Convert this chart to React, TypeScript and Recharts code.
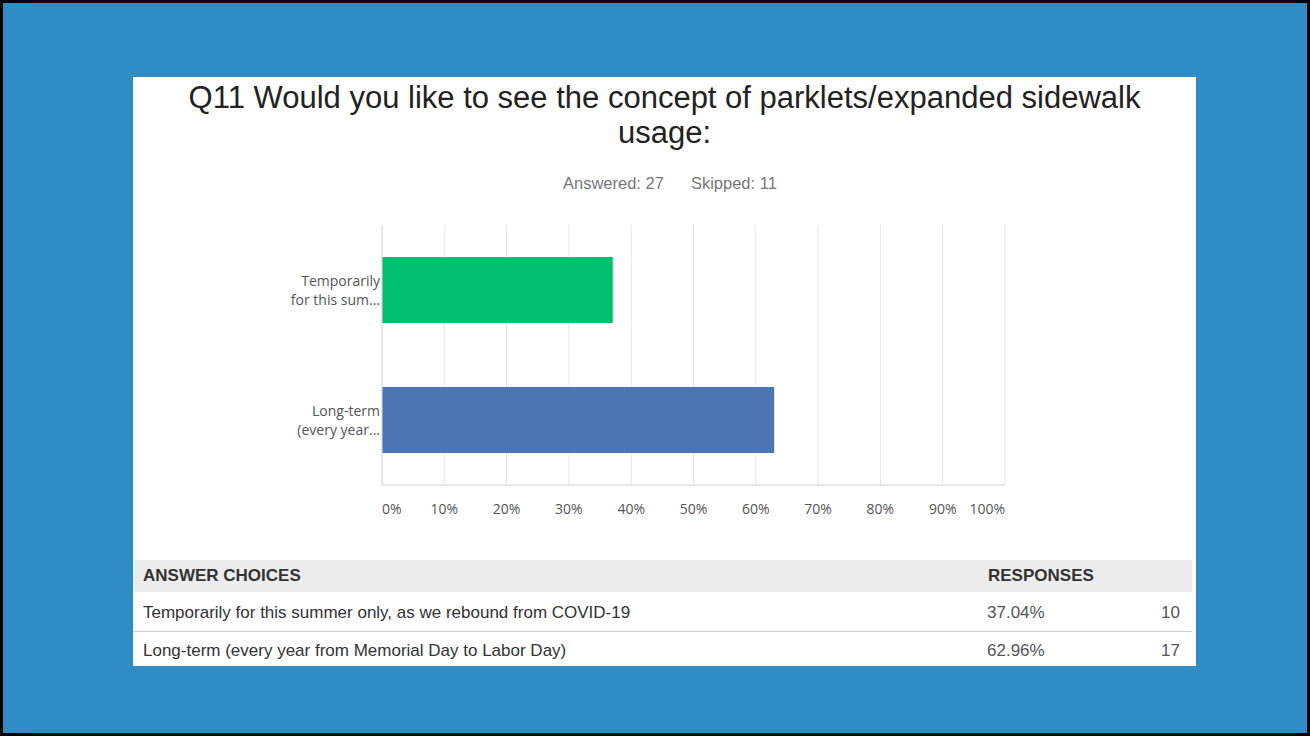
import React from 'react';
import { BarChart, Bar, XAxis, YAxis, CartesianGrid, Cell } from 'recharts';

const categories = [
  'Temporarily for this summer only, as we rebound from COVID-19',
  'Long-term (every year from Memorial Day to Labor Day)',
];
const shortLabels = [
  ['Temporarily', 'for this sum...'],
  ['Long-term', '(every year...'],
];
const percents = [37.04, 62.96];
const counts = [10, 17];
const barColors = ['#00bf6f', '#4b74b5'];
const xTicks = [0, 10, 20, 30, 40, 50, 60, 70, 80, 90, 100];

const chartData = categories.map((name, i) => ({ name, value: percents[i] }));

const tickFont = '"Open Sans", "Noto Sans", sans-serif';

const YTick = (props: any) => {
  const { x, y, payload } = props;
  const idx = categories.indexOf(payload.value);
  const lines = shortLabels[idx] || [payload.value];
  return (
    <text x={x} y={y} textAnchor="end" fill="#555" fontSize={14} fontFamily={tickFont}>
      <tspan x={x} dy={-4}>{lines[0]}</tspan>
      <tspan x={x} dy={19}>{lines[1]}</tspan>
    </text>
  );
};

const XTick = (props: any) => {
  const { x, y, payload } = props;
  const v = payload.value;
  const anchor = v === 0 ? 'start' : v === 100 ? 'end' : 'middle';
  return (
    <text x={x} y={y} dy={21} textAnchor={anchor} fill="#555" fontSize={14} fontFamily={tickFont}>
      {v}%
    </text>
  );
};

const App = () => {
  return (
    <div
      style={{
        position: 'absolute',
        left: 0,
        top: 0,
        width: 1310,
        height: 736,
        background: '#2f8cc5',
        border: '3px solid #000',
        boxSizing: 'border-box',
        fontFamily: '"Liberation Sans", Arial, sans-serif',
      }}
    >
      <div
        style={{
          position: 'absolute',
          left: 130,
          top: 74,
          width: 1063,
          height: 589,
          background: '#fff',
          overflow: 'hidden',
        }}
      >
        {/* titre */}
        <div
          style={{
            position: 'absolute',
            left: 0,
            top: 3,
            width: 1063,
            textAlign: 'center',
            fontSize: 31,
            lineHeight: '35px',
            color: '#222',
          }}
        >
          Q11 Would you like to see the concept of parklets/expanded sidewalk
          <br />
          usage:
        </div>
        <div
          style={{
            position: 'absolute',
            left: 430,
            top: 96,
            fontSize: 16.5,
            lineHeight: '20px',
            color: '#777',
          }}
        >
          <span style={{ marginRight: 27 }}>Answered: 27</span>
          <span>Skipped: 11</span>
        </div>

        <div style={{ position: 'absolute', left: 127, top: 138 }}>
          <BarChart
            width={770}
            height={310}
            data={chartData}
            layout="vertical"
            margin={{ top: 10, right: 25, left: 10, bottom: 10 }}
            barSize={66}
          >
            <CartesianGrid horizontal={false} stroke="#e6e6e6" />
            <XAxis
              type="number"
              domain={[0, 100]}
              ticks={xTicks}
              axisLine={{ stroke: '#cfcfcf' }}
              tickLine={false}
              tick={<XTick />}
              height={30}
              interval={0}
            />
            <YAxis
              type="category"
              dataKey="name"
              width={112}
              axisLine={{ stroke: '#dcdcdc' }}
              tickLine={false}
              tickSize={0}
              tickMargin={2}
              tick={<YTick />}
            />
            <Bar dataKey="value" isAnimationActive={false}>
              {chartData.map((d, i) => (
                <Cell key={d.name} fill={barColors[i]} />
              ))}
            </Bar>
          </BarChart>
        </div>

        {/* tableau */}
        <div
          style={{
            position: 'absolute',
            left: 0,
            top: 483,
            width: 1059,
            height: 32,
            background: '#ececec',
            fontSize: 17,
            fontWeight: 'bold',
            color: '#333',
            lineHeight: '32px',
          }}
        >
          <span style={{ position: 'absolute', left: 10 }}>ANSWER CHOICES</span>
          <span style={{ position: 'absolute', left: 855 }}>RESPONSES</span>
        </div>
        {categories.map((c, i) => (
          <div
            key={c}
            style={{
              position: 'absolute',
              left: 0,
              top: 516 + i * 38,
              width: 1059,
              height: 38,
              borderBottom: i === 0 ? '1px solid #cfcfcf' : 'none',
              fontSize: 17,
              lineHeight: '40px',
              color: '#333',
            }}
          >
            <span style={{ position: 'absolute', left: 10 }}>{c}</span>
            <span style={{ position: 'absolute', left: 854, color: '#555' }}>
              {percents[i].toFixed(2)}%
            </span>
            <span style={{ position: 'absolute', right: 12, color: '#555' }}>{counts[i]}</span>
          </div>
        ))}
      </div>
    </div>
  );
};

export default App;
